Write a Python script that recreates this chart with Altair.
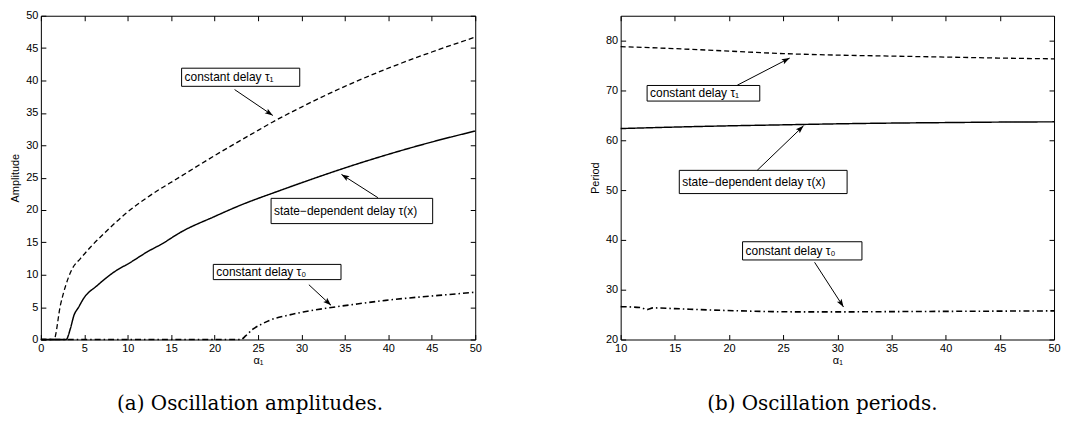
import math
import altair as alt
import pandas as pd

# ---------------- (a) Oscillation amplitudes ----------------
amp_alpha_tau1 = [0, 1.5, 2.25, 2.85, 3.6, 4.55, 5.7, 7.6, 9.9, 12.2, 16.0, 20.0, 25.0, 26.7, 30.0, 35.0, 40.0, 45.0, 50.0]
amp_tau1 = [0, 0, 5.3, 8.3, 10.9, 12.5, 14.25, 16.8, 19.6, 21.9, 25.1, 28.4, 32.3, 33.6, 35.9, 39.1, 41.9, 44.4, 46.7]

amp_alpha_state = [0, 2.9, 3.4, 3.8, 4.35, 4.9, 6.5, 8.4, 10.3, 12.2, 14.1, 16.0, 20.0, 22.9, 27.5, 30.0, 35.0, 40.0, 45.0, 50.0]
amp_state = [0, 0, 1.7, 3.7, 5.0, 6.3, 8.35, 10.4, 11.9, 13.5, 14.9, 16.5, 19.0, 20.7, 23.0, 24.2, 26.5, 28.6, 30.5, 32.2]

amp_alpha_tau0 = [0, 23.0, 23.6, 24.4, 25.3, 26.3, 28.3, 30.2, 33.2, 35.9, 39.7, 43.5, 47.0, 50.0]
amp_tau0 = [0, 0, 0.6, 1.6, 2.3, 2.95, 3.7, 4.25, 4.9, 5.4, 6.05, 6.55, 6.95, 7.3]

amp_x_ticks = [0, 5, 10, 15, 20, 25, 30, 35, 40, 45, 50]
amp_y_ticks = [0, 5, 10, 15, 20, 25, 30, 35, 40, 45, 50]

amp_labels = ["constant delay τ₁", "state−dependent delay τ(x)", "constant delay τ₀"]
amp_box_x1 = [16.2, 26.5, 19.85]
amp_box_x2 = [29.8, 45.1, 34.55]
amp_box_y1 = [39.1, 17.9, 9.25]
amp_box_y2 = [41.9, 21.8, 11.6]
amp_arrow_x1 = [22.3, 38.8, 30.85]
amp_arrow_y1 = [38.6, 21.9, 8.46]
amp_arrow_x2 = [26.7, 34.6, 33.4]
amp_arrow_y2 = [34.6, 25.5, 5.28]

# ---------------- (b) Oscillation periods ----------------
per_alpha = [10, 15, 20, 25, 30, 35, 40, 45, 50]
per_tau1 = [78.8, 78.4, 77.9, 77.4, 77.1, 76.9, 76.7, 76.5, 76.35]
per_state = [62.35, 62.65, 62.9, 63.1, 63.3, 63.45, 63.55, 63.65, 63.7]
per_alpha_tau0 = [10, 11.9, 12.4, 13.0, 15, 18, 21, 24, 27, 30, 35, 40, 45, 50]
per_tau0 = [26.6, 26.4, 26.0, 26.35, 26.2, 25.95, 25.75, 25.6, 25.55, 25.55, 25.6, 25.65, 25.7, 25.75]

per_x_ticks = [10, 15, 20, 25, 30, 35, 40, 45, 50]
per_y_ticks = [20, 30, 40, 50, 60, 70, 80]

per_labels = ["constant delay τ₁", "state−dependent delay τ(x)", "constant delay τ₀"]
per_box_x1 = [12.44, 15.41, 21.25]
per_box_x2 = [22.84, 30.9, 32.27]
per_box_y1 = [67.87, 49.3, 35.97]
per_box_y2 = [71.0, 53.96, 39.63]
per_arrow_x1 = [20.76, 22.6, 27.9]
per_arrow_y1 = [71.05, 53.96, 35.5]
per_arrow_x2 = [25.6, 26.88, 30.57]
per_arrow_y2 = [76.5, 62.9, 26.52]

SERIES = ["tau1", "state", "tau0"]
DASH = [[5, 3], [1, 0], [6, 3, 1.5, 3]]
WIDTHS = [1.3, 1.6, 1.3]
FONT = "Liberation Sans"
ARROW = "M0,0L-0.35,1L0,0.8L0.35,1Z"


def curves_df(xs_list, ys_list):
    rows = []
    for s, xs, ys in zip(SERIES, xs_list, ys_list):
        for i, (a, v) in enumerate(zip(xs, ys)):
            rows.append({"series": s, "alpha": a, "value": v, "idx": i})
    return pd.DataFrame(rows)


def tick_axis(orient, offset, values):
    return alt.Axis(orient=orient, offset=offset, values=values, labels=False, ticks=True,
                    tickSize=5, domain=False, grid=False, title=None,
                    minExtent=0, maxExtent=0)


def panel(curves, labels, bx1, bx2, by1, by2, ax1, ay1, ax2, ay2,
          xdom, ydom, xticks, yticks, ytitle, caption, W, H, cap_dx):
    xs = alt.Scale(domain=xdom, nice=False, zero=False)
    ys = alt.Scale(domain=ydom, nice=False, zero=False)

    boxes = pd.DataFrame({"label": labels, "x1": bx1, "x2": bx2, "y1": by1, "y2": by2})
    boxes["ym"] = (boxes["y1"] + boxes["y2"]) / 2
    arrows = pd.DataFrame({"x1": ax1, "y1": ay1, "x2": ax2, "y2": ay2})
    px = W / (xdom[1] - xdom[0])
    py = H / (ydom[1] - ydom[0])
    arrows["ang"] = [
        math.degrees(math.atan2((b - a) * px, (d - c) * py)) % 360
        for a, b, c, d in zip(arrows["x1"], arrows["x2"], arrows["y1"], arrows["y2"])
    ]

    main_x = alt.Axis(orient="bottom", values=xticks, title="α₁", ticks=False, domain=False,
                      grid=False, labelPadding=3, titlePadding=1, labelFlush=False)
    main_y = alt.Axis(orient="left", values=yticks, title=ytitle, ticks=False, domain=False,
                      grid=False, labelPadding=3, titlePadding=5, labelFlush=False)

    lines = alt.Chart(curves).mark_line(color="black", interpolate="monotone").encode(
        x=alt.X("alpha:Q", scale=xs, axis=main_x),
        y=alt.Y("value:Q", scale=ys, axis=main_y),
        strokeDash=alt.StrokeDash("series:N", scale=alt.Scale(domain=SERIES, range=DASH), legend=None),
        strokeWidth=alt.StrokeWidth("series:N", scale=alt.Scale(domain=SERIES, range=WIDTHS), legend=None),
        order="idx:Q",
    )
    rects = alt.Chart(boxes).mark_rect(fill="white", stroke="black", strokeWidth=1).encode(
        x=alt.X("x1:Q", scale=xs, axis=tick_axis("top", -H, xticks)),
        x2="x2:Q",
        y=alt.Y("y1:Q", scale=ys, axis=tick_axis("right", -W, yticks)),
        y2="y2:Q",
    )
    texts = alt.Chart(boxes).mark_text(align="left", baseline="middle", dx=3, dy=0,
                                       font=FONT, fontSize=12, color="black").encode(
        x=alt.X("x1:Q", scale=xs, axis=None),
        y=alt.Y("ym:Q", scale=ys, axis=None),
        text="label:N",
    )
    rules = alt.Chart(arrows).mark_rule(color="black", strokeWidth=1).encode(
        x=alt.X("x1:Q", scale=xs, axis=tick_axis("bottom", -H, xticks)),
        y=alt.Y("y1:Q", scale=ys, axis=tick_axis("left", -W, yticks)),
        x2="x2:Q",
        y2="y2:Q",
    )
    heads = alt.Chart(arrows).mark_point(shape=ARROW, filled=True, color="black", size=256,
                                         opacity=1).encode(
        x=alt.X("x2:Q", scale=xs, axis=None),
        y=alt.Y("y2:Q", scale=ys, axis=None),
        angle=alt.Angle("ang:Q", scale=None),
    )
    return alt.layer(lines, rects, texts, rules, heads).resolve_axis(
        x="independent", y="independent"
    ).properties(
        width=W, height=H,
        title=alt.TitleParams(caption, orient="bottom", anchor="middle", font="DejaVu Serif",
                              fontSize=20, fontWeight="normal", color="black", offset=29, dx=cap_dx),
    )


amp = curves_df([amp_alpha_tau1, amp_alpha_state, amp_alpha_tau0], [amp_tau1, amp_state, amp_tau0])
per = curves_df([per_alpha, per_alpha, per_alpha_tau0], [per_tau1, per_state, per_tau0])

left = panel(amp, amp_labels, amp_box_x1, amp_box_x2, amp_box_y1, amp_box_y2,
             amp_arrow_x1, amp_arrow_y1, amp_arrow_x2, amp_arrow_y2,
             [0, 50], [0, 50], amp_x_ticks, amp_y_ticks, "Amplitude",
             "(a) Oscillation amplitudes.", 436, 325, -8)
right = panel(per, per_labels, per_box_x1, per_box_x2, per_box_y1, per_box_y2,
              per_arrow_x1, per_arrow_y1, per_arrow_x2, per_arrow_y2,
              [10, 50], [20, 85], per_x_ticks, per_y_ticks, "Period",
              "(b) Oscillation periods.", 435, 325, -15)

chart = alt.hconcat(left, right, spacing=146, bounds="flush").configure_view(
    stroke="black", strokeWidth=1
).configure_axis(
    labelFont=FONT, labelFontSize=11, labelColor="black",
    titleFont=FONT, titleFontSize=11, titleColor="black", titleFontWeight="normal",
    tickColor="black", tickWidth=1,
).properties(background="white", padding={"left": 1, "top": 0, "right": 0, "bottom": 0})

chart.save("out.html", embed_options={"renderer": "svg", "actions": False})
